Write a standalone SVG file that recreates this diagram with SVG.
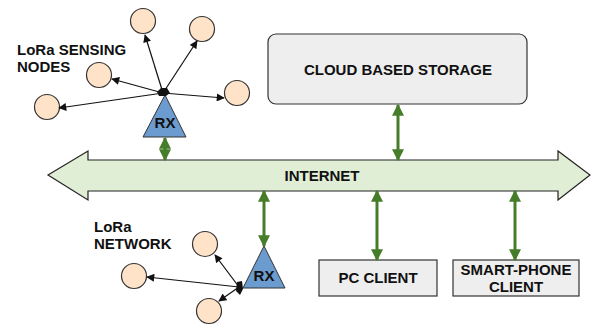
<svg xmlns="http://www.w3.org/2000/svg" width="597" height="327" viewBox="0 0 597 327">
<style>
.t{font-family:"Liberation Sans",Arial,sans-serif;font-weight:bold;fill:#111;font-size:15px;}
.node{fill:#ffe3c8;stroke:#333;stroke-width:1.2;}
.rx{fill:#6c9bcf;stroke:#333;stroke-width:1;}
.box{fill:#eeeeee;stroke:#333;stroke-width:1.2;}
.g{stroke:#467d2a;stroke-width:3;fill:none;marker-start:url(#ga);marker-end:url(#ga);}
.k{stroke:#111;stroke-width:1.2;fill:none;marker-end:url(#ka);}
</style>
<defs>
<marker id="ga" viewBox="0 0 10 10" refX="9" refY="5" markerWidth="4" markerHeight="4" orient="auto-start-reverse" markerUnits="strokeWidth">
<path d="M0,0 L10,5 L0,10 Z" fill="#467d2a"/>
</marker>
<marker id="ka" viewBox="0 0 10 10" refX="9" refY="5" markerWidth="9" markerHeight="8" orient="auto" markerUnits="userSpaceOnUse">
<path d="M0,0 L10,5 L0,10 Z" fill="#111"/>
</marker>
</defs>
<g id="internet">
<path d="M48,175 L88,151 L88,160 L558,160 L558,151 L590,175 L558,200 L558,191 L88,191 L88,200 Z" fill="#e0eed6" stroke="#222" stroke-width="1.2"/>
<text class="t" x="322" y="181" text-anchor="middle">INTERNET</text>
</g>
<g id="cloud">
<rect class="box" x="268" y="34" width="259" height="70" rx="8"/>
<text class="t" x="398" y="75" text-anchor="middle">CLOUD BASED STORAGE</text>
</g>
<g id="pc">
<rect class="box" x="319" y="260" width="118" height="36"/>
<text class="t" x="378" y="283" text-anchor="middle">PC CLIENT</text>
</g>
<g id="phone">
<rect class="box" x="453" y="260" width="126" height="36"/>
<text class="t" x="516" y="275" text-anchor="middle">SMART-PHONE</text>
<text class="t" x="516" y="292" text-anchor="middle">CLIENT</text>
</g>
<g id="rx1">
<path class="rx" d="M165,95 L186,137 L143,137 Z"/>
<text class="t" x="165" y="128" text-anchor="middle">RX</text>
</g>
<g id="rx2">
<path class="rx" d="M264,246 L285,288 L243,288 Z"/>
<text class="t" x="264" y="281" text-anchor="middle">RX</text>
</g>
<g id="sensing-nodes">
<circle class="node" cx="143" cy="21" r="12.5"/>
<circle class="node" cx="202" cy="29" r="12.5"/>
<circle class="node" cx="99" cy="75" r="12.5"/>
<circle class="node" cx="47" cy="107" r="12.5"/>
<circle class="node" cx="237" cy="93" r="12.5"/>
<text class="t" x="17" y="55">LoRa SENSING</text>
<text class="t" x="17" y="72">NODES</text>
</g>
<g id="network-nodes">
<circle class="node" cx="205" cy="244" r="12.5"/>
<circle class="node" cx="134" cy="276" r="12.5"/>
<circle class="node" cx="209" cy="311" r="12.5"/>
<text class="t" x="94" y="232">LoRa</text>
<text class="t" x="94" y="249">NETWORK</text>
</g>
<g id="connectors">
<path class="k" d="M163,93 L145,35"/>
<path class="k" d="M163,93 L197,41"/>
<path class="k" d="M163,93 L112,79"/>
<path class="k" d="M163,93 L59,108"/>
<path class="k" d="M163,93 L224,98"/>
<path d="M157,92 L161,88 L167,88 L170,93 L166,96 L159,96 Z" fill="#111"/>
<path class="k" d="M239,287 L215,255"/>
<path class="k" d="M239,287 L147,277"/>
<path class="k" d="M239,287 L219,301"/>
<path d="M237,282 L242,281 L243,289 L240,295 L236,291 Z" fill="#111"/>
<path class="g" d="M165,138 L165,160"/>
<path class="g" d="M398,105 L398,160"/>
<path class="g" d="M264,191 L264,246"/>
<path class="g" d="M377,191 L377,260"/>
<path class="g" d="M515,191 L515,260"/>
</g>
</svg>
